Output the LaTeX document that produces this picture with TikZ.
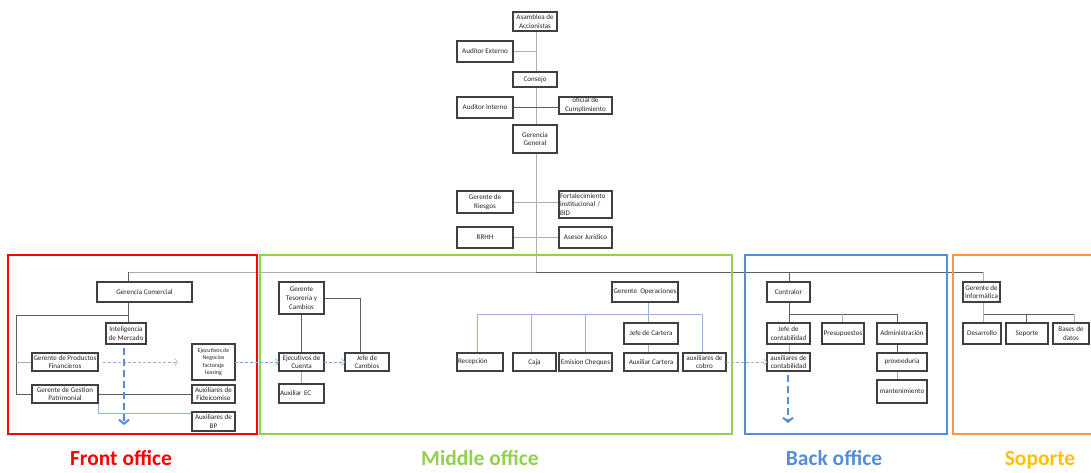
\documentclass[tikz,border=0pt]{standalone}
\usepackage{fontspec}
\setmainfont{Carlito}
\usetikzlibrary{arrows.meta,backgrounds}
\definecolor{boxc}{RGB}{64,64,64}
\definecolor{lgrey}{RGB}{175,175,175}
\definecolor{dgrey}{RGB}{95,95,95}
\definecolor{lblue}{RGB}{150,180,215}
\definecolor{mblue}{RGB}{85,142,213}
\definecolor{fred}{RGB}{255,0,0}
\definecolor{fgreen}{RGB}{146,208,80}
\definecolor{fblue}{RGB}{85,142,213}
\definecolor{forange}{RGB}{247,150,70}
\definecolor{fyellow}{RGB}{255,192,0}
\tikzset{
 bx/.style={draw=boxc, line width=1.1pt, fill=white, inner sep=1pt, outer sep=0pt,
   font=\fontsize{7.1}{8.8}\selectfont, text=black!85, align=center},
 gl/.style={draw=lgrey, line width=0.8pt},
 dl/.style={draw=dgrey, line width=0.8pt},
 bl/.style={draw=lblue, line width=0.8pt},
 thinarrow/.style={draw=mblue!80, line width=0.6pt, dash pattern=on 3pt off 2pt,
   -{Straight Barb[length=3pt,width=7pt]}},
 thickarrow/.style={draw=mblue, line width=2.5pt, dash pattern=on 7pt off 4pt,
   -{Straight Barb[length=4pt,width=10pt,line width=2pt]}},
 frame/.style={line width=1.4pt},
 lab/.style={font=\fontsize{21.5}{26}\selectfont\bfseries, inner sep=0pt, anchor=base},
}
\newcommand\bx[7][]{\node[bx,minimum width={(#5-#3)*1pt},minimum height={(#6-#4)*1pt},#1]
  (#2) at ({(#3+#5)/2},{(#4+#6)/2}) {#7};}
\begin{document}
\begin{tikzpicture}[x=1pt,y=-1pt]
\useasboundingbox (0,0) rectangle (1091,472);
\clip (0,0) rectangle (1091,472);
% frames
\draw[frame,fred] (8,255) rectangle (257,434);
\draw[frame,fgreen] (260,255) rectangle (732,434);
\draw[frame,fblue] (745,255) rectangle (947,434);
\draw[frame,forange] (953,255) rectangle (1100,434);
% top
\bx{asam}{513}{12}{557}{31}{Asamblea de\\Accionistas}
\bx{audext}{457}{41}{513}{62}{Auditor Externo}
\bx{consejo}{513}{72}{557}{87}{Consejo}
\bx{audint}{457}{97}{513}{118}{Auditor Interno}
\bx{oficial}{559}{97}{612}{114}{oficial de\\Cumplimiento}
\bx{gerg}{513}{125}{557}{153}{Gerencia\\General}
\bx{riesgos}{457}{191}{513}{213}{Gerente de\\Riesgos}
\bx[align=left,text width=51pt]{fort}{559}{191}{612}{218}{Fortalecimiento\\institucional /\\BID}
\bx{rrhh}{457}{227}{513}{248}{RRHH}
\bx{asesor}{559}{227}{612}{248}{Asesor Jurídico}
% front office
\bx{gcom}{97}{282}{192}{302}{Gerencia Comercial}
\bx{intel}{106}{323}{146}{344}{Inteligencia\\de Mercado}
\bx{gpf}{32}{353}{98}{371}{Gerente de Productos\\Financieros}
\bx{ggp}{32}{385}{98}{403}{Gerente de Gestion\\Patrimonial}
\bx[font=\fontsize{5.9}{7.5}\selectfont]{ejneg}{192}{344}{235}{380}{Ejecutivos de\\Negocios\\factoraje\\leasing}
\bx{auxfid}{192}{385}{235}{403}{Auxiliares de\\Fideicomiso}
\bx{auxbp}{192}{412}{235}{431}{Auxiliares de\\BP}
% middle office
\bx{gtes}{279}{282}{324}{314}{Gerente\\Tesorería y\\Cambios}
\bx{ejcta}{279}{353}{324}{371}{Ejecutivos de\\Cuenta}
\bx{jcamb}{345}{353}{389}{371}{Jefe de\\Cambios}
\bx[align=left,text width=43pt,text depth=-3pt]{auxec}{279}{384}{324}{403}{Auxiliar EC}
\bx{gop}{612}{282}{678}{302}{Gerente\ \ Operaciones}
\bx[align=left,text width=44pt]{recep}{457}{353}{503}{371}{Recepción}
\bx[text depth=-2pt]{caja}{513}{353}{556}{371}{Caja}
\bx[text depth=-1pt]{emis}{559}{353}{612}{371}{Emision Cheques}
\bx[text depth=-3pt]{jcart}{624}{323}{678}{344}{Jefe de Cartera}
\bx[text depth=-1pt]{auxcart}{624}{353}{678}{371}{Auxiliar Cartera}
\bx{auxcob}{683}{353}{726}{371}{auxiliares de\\cobro}
% back office
\bx{contr}{767}{282}{810}{302}{Contralor}
\bx{jcont}{767}{323}{810}{344}{Jefe de\\contabilidad}
\bx{presu}{822}{323}{864}{344}{Presupuestos}
\bx{admin}{877}{323}{927}{344}{Administración}
\bx{auxcont}{767}{353}{810}{371}{auxiliares de\\contabilidad}
\bx{prov}{877}{353}{927}{371}{proveeduría}
\bx{mant}{877}{380}{927}{403}{mantenimiento}
% soporte
\bx{ginf}{963}{282}{1000}{302}{Gerente de\\Informática}
\bx{desa}{963}{323}{1001}{344}{Desarrollo}
\bx{sop}{1006}{323}{1048}{344}{Soporte}
\bx{bd}{1053}{323}{1089}{344}{Bases de\\datos}
% coordinates
\coordinate (jtop) at (536,272);
\coordinate (hL) at (128,272);
\coordinate (hR) at (983,272);
\coordinate (fl1) at (16,315);
\coordinate (fl2) at (16,394);
\coordinate (bp1) at (98,413);
\coordinate (ta1) at (178,362);
\coordinate (tk0) at (124,348);
\coordinate (tk1) at (124,425);
\coordinate (m2) at (360,298);
\coordinate (o1) at (477,314);
\coordinate (o2) at (702,314);
\coordinate (o3) at (648,314);
\coordinate (o4) at (531,314);
\coordinate (o5) at (585,314);
\coordinate (b1) at (789,314);
\coordinate (b2) at (842,314);
\coordinate (b3) at (897,314);
\coordinate (bk0) at (788,375);
\coordinate (bk1) at (788,423);
\coordinate (s1) at (983,314);
\coordinate (s2) at (1026,314);
\coordinate (s3) at (1074,314);
\begin{pgfonlayer}{background}
% top spine
\draw[gl] (jtop |- asam.south) -- (jtop);
\draw[gl] (audext.east) -- (audext.east -| jtop);
\draw[dl] (audint.east) -- (audint.east -| oficial.west);
\draw[gl] (riesgos.east) -- (riesgos.east -| fort.west);
\draw[gl] (rrhh.east) -- (asesor.west);
\draw[gl] (hL) -- (jtop);
\draw[dl] (jtop) -- (hR);
% front
\draw[dl] (hL) -- (hL |- gcom.north);
\draw[dl] (hL |- gcom.south) -- (hL |- intel.north);
\draw[dl] (fl1) -- (fl1 -| hL);
\draw[dl] (fl1) -- (fl2);
\draw[gl] (fl1 |- gpf.west) -- (gpf.west);
\draw[dl] (fl2) -- (fl2 -| auxfid.west);
\draw[bl] (ggp.south east) -- (bp1) -- (bp1 -| auxbp.west);
% middle
\draw[dl] (gtes.south) -- (ejcta.north);
\draw[dl] (gtes.east) -- (m2) -- (m2 |- jcamb.north);
\draw[bl] (ejcta.south) -- (auxec.north);
\draw[bl] (o1) -- (o2);
\draw[bl] (o3 |- gop.south) -- (o3 |- jcart.north);
\draw[bl] (o1) -- (o1 |- recep.north);
\draw[bl] (o4) -- (o4 |- caja.north);
\draw[bl] (o5) -- (o5 |- emis.north);
\draw[bl] (o2) -- (o2 |- auxcob.north);
\draw[bl] (o3 |- jcart.south) -- (o3 |- auxcart.north);
% back
\draw[dl] (b1 |- hL) -- (b1 |- contr.north);
\draw[dl] (b1 |- contr.south) -- (b1) -- (b3);
\draw[dl] (b1) -- (b1 |- jcont.north);
\draw[gl] (b2) -- (b2 |- presu.north);
\draw[dl] (b3) -- (b3 |- admin.north);
\draw[gl] (b1 |- jcont.south) -- (b1 |- auxcont.north);
\draw[dl] (b3 |- admin.south) -- (b3 |- prov.north);
\draw[gl] (b3 |- prov.south) -- (b3 |- mant.north);
% soporte
\draw[gl] (hR) -- (hR |- ginf.north);
\draw[gl] (s1 |- ginf.south) -- (s1);
\draw[dl] (s1) -- (s3);
\draw[gl] (s1) -- (s1 |- desa.north);
\draw[dl] (s2) -- (s2 |- sop.north);
\draw[gl] (s3) -- (s3 |- bd.north);
\end{pgfonlayer}
% arrows
\draw[thinarrow,draw=lblue] ([xshift=5pt]gpf.east) -- (ta1);
\draw[thickarrow] (tk0) -- (tk1);
\draw[thinarrow] (ejneg.east) -- (ejcta.west);
\draw[thinarrow] (ejcta.east) -- (jcamb.west);
\draw[thinarrow,draw=lblue] (auxcob.east) -- (auxcont.west);
\draw[thickarrow] (bk0) -- (bk1);
% labels
\node[lab,text=fred] (lfront) at (121,465) {Front office};
\node[lab,text=fgreen] (lmid) at (480,465) {Middle office};
\node[lab,text=fblue] (lback) at (834,465) {Back office};
\node[lab,text=fyellow] (lsop) at (1040,465) {Soporte};
\end{tikzpicture}
\end{document}
